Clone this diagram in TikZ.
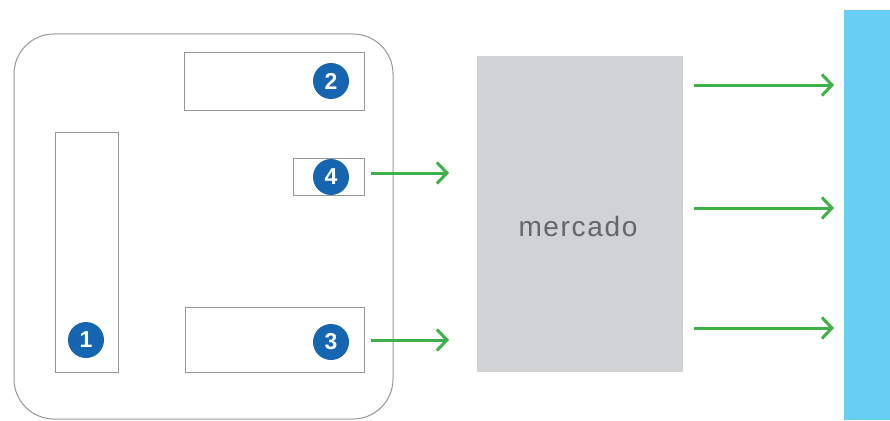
\documentclass[tikz,border=0pt]{standalone}
\usepackage{fontspec}
\setmainfont{Liberation Sans}
\usetikzlibrary{arrows.meta}
\definecolor{edgegray}{RGB}{150,150,150}
\definecolor{badgeblue}{RGB}{22,101,176}
\definecolor{marketgray}{RGB}{209,210,212}
\definecolor{textgray}{RGB}{100,101,104}
\definecolor{flowgreen}{RGB}{60,178,72}
\definecolor{barblue}{RGB}{104,206,243}
\tikzset{
  part/.style={draw=edgegray, line width=1pt, fill=white, inner sep=0pt},
  badge/.style={circle, fill=badgeblue, minimum size=36pt, inner sep=0pt,
    text=white, font=\fontsize{23}{23}\selectfont\bfseries},
  flow/.style={draw=flowgreen, line width=3pt,
    -{Straight Barb[length=10pt,width=21pt,line width=3pt]}},
}
\begin{document}
\begin{tikzpicture}[x=1pt, y=-1pt]
\useasboundingbox (0,0) rectangle (890,420);
% enclosing frame
\draw[edgegray, line width=1pt, rounded corners=40pt] (14,34) rectangle (393,419);
% inner parts
\node[part, minimum width=180pt, minimum height=57pt] (b2) at (274,81.5) {};
\node[part, minimum width=71pt, minimum height=37pt] (b4) at (328.5,176.5) {};
\node[part, minimum width=63pt, minimum height=240pt] (b1) at (86.5,252) {};
\node[part, minimum width=179pt, minimum height=65pt] (b3) at (274.5,339.5) {};
% numbered badges
\node[badge] (n2) at (331,81) {2};
\node[badge] (n4) at (331,177) {4};
\node[badge] (n1) at (86,340) {1};
\node[badge] (n3) at (331,342) {3};
% market block
\node[fill=marketgray, minimum width=206pt, minimum height=316pt, inner sep=0pt] (mk) at (580,214) {};
\node[text=textgray, font=\fontsize{28}{28}\selectfont\addfontfeature{LetterSpace=6}] (mt) at (578,226) {mercado};
% receiving bar
\node[fill=barblue, minimum width=46pt, minimum height=410pt, inner sep=0pt] (bar) at (867,215) {};
% flows into the market
\coordinate (i4) at (449,173);
\coordinate (i3) at (449,340);
\draw[flow] (371,173) -- (i4);
\draw[flow] (371,340) -- (i3);
% flows out of the market
\foreach \yy/\nm in {85/o1, 208/o2, 328/o3} {
  \coordinate (\nm s) at (694,\yy);
  \coordinate (\nm e) at (834,\yy);
  \draw[flow] (\nm s) -- (\nm e);
}
\end{tikzpicture}
\end{document}
